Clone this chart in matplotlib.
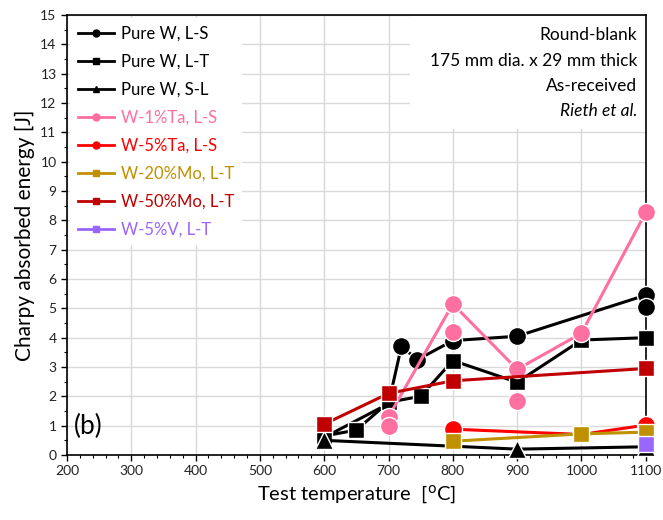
import numpy as np
import matplotlib.pyplot as plt
from matplotlib.lines import Line2D
from matplotlib.patches import Rectangle
from matplotlib.ticker import MultipleLocator

plt.rcParams['font.family'] = ['Lato', 'DejaVu Sans']

# ---- data ----
ls_T = [600, 700, 720, 745, 800, 900, 1100]
ls_E = [0.6, 1.75, 3.7, 3.25, 3.9, 4.05, 5.45]
ls_xT = [1100]
ls_xE = [5.05]

lt_T = [600, 650, 700, 750, 800, 900, 1000, 1100]
lt_E = [0.65, 0.85, 1.8, 2.0, 3.22, 2.48, 3.92, 4.0]

sl_T = [600, 900, 1100]
sl_E = [0.5, 0.2, 0.28]

ta1_T = [700, 800, 900, 1000, 1100]
ta1_E = [1.3, 5.15, 2.92, 4.15, 8.27]
ta1_xT = [700, 800, 900]
ta1_xE = [1.0, 4.18, 1.85]

ta5_T = [800, 1000, 1100]
ta5_E = [0.88, 0.7, 1.02]

mo20_T = [800, 1000, 1100]
mo20_E = [0.47, 0.72, 0.78]

mo50_T = [600, 700, 800, 1100]
mo50_E = [1.05, 2.1, 2.53, 2.95]

v5_T = [1100]
v5_E = [0.38]

names = ['Pure W, L-S', 'Pure W, L-T', 'Pure W, S-L', 'W-1%Ta, L-S',
         'W-5%Ta, L-S', 'W-20%Mo, L-T', 'W-50%Mo, L-T', 'W-5%V, L-T']
colors = ['black', 'black', 'black', '#FF6FA0', '#FF0000', '#BF9000',
          '#C00000', '#9966FF']
markers = ['o', 's', '^', 'o', 'o', 's', 's', 's']
series = [(ls_T, ls_E), (lt_T, lt_E), (sl_T, sl_E), (ta1_T, ta1_E),
          (ta5_T, ta5_E), (mo20_T, mo20_E), (mo50_T, mo50_E), (v5_T, v5_E)]
extras = {0: (ls_xT, ls_xE), 3: (ta1_xT, ta1_xE)}

notes = ['Round-blank', '175 mm dia. x 29 mm thick', 'As-received', 'Rieth et al.']

fig = plt.figure(figsize=(6.63, 5.2), dpi=100)
ax = fig.add_axes([0.101, 0.125, 0.873, 0.846])

for i, (T, E) in enumerate(series):
    ms = 13 if markers[i] != 's' else 12
    ax.plot(T, E, color=colors[i], lw=2.2, marker=markers[i], ms=ms,
            mfc=colors[i], mec='white', mew=1.0, clip_on=False, zorder=3 + i * 0.1)
    if i in extras:
        xt, xe = extras[i]
        ax.plot(xt, xe, ls='none', marker=markers[i], ms=ms, mfc=colors[i],
                mec='white', mew=1.0, clip_on=False, zorder=3 + i * 0.1)

ax.set_xlim(200, 1100)
ax.set_ylim(0, 15)
ax.xaxis.set_major_locator(MultipleLocator(100))
ax.xaxis.set_minor_locator(MultipleLocator(20))
ax.yaxis.set_major_locator(MultipleLocator(1))
ax.yaxis.set_minor_locator(MultipleLocator(0.5))
ax.tick_params(which='major', direction='out', length=4, width=1, labelsize=10,
               colors='black', labelcolor='#222222')
ax.tick_params(which='minor', direction='out', length=2.5, width=0.8)
ax.grid(True, which='major', color='#D9D9D9', lw=1.0, zorder=0)
ax.set_axisbelow(True)
for s in ax.spines.values():
    s.set_linewidth(1.2)
    s.set_color('black')

ax.set_xlabel('Test temperature  [$^{\\mathrm{o}}$C]', fontsize=14.5)
ax.set_ylabel('Charpy absorbed energy [J]', fontsize=15)

handles = [Line2D([], [], color=c, lw=2, marker=m, ms=5, mec=c)
           for c, m in zip(colors, markers)]
leg = ax.legend(handles, names, loc='upper left', fontsize=12, frameon=True,
                facecolor='white', edgecolor='none', framealpha=1,
                handlelength=2.2, handletextpad=0.4, labelspacing=0.72,
                borderaxespad=0.2, borderpad=0.45, fancybox=False)
for t, c in zip(leg.get_texts(), colors):
    t.set_color(c)
leg.set_zorder(10)

# white box behind the note block
ax.add_patch(Rectangle((0.592, 0.74), 0.406, 0.258, transform=ax.transAxes,
                       facecolor='white', edgecolor='none', zorder=9))
for k, line in enumerate(notes):
    ax.text(0.985, 0.954 - k * 0.0575, line, transform=ax.transAxes,
            ha='right', va='center', fontsize=12.5, zorder=11,
            style='italic' if k == 3 else 'normal')

ax.text(0.012, 0.065, '(b)', transform=ax.transAxes, fontsize=19,
        ha='left', va='center', zorder=11)

fig.savefig('out.png', dpi=100)
